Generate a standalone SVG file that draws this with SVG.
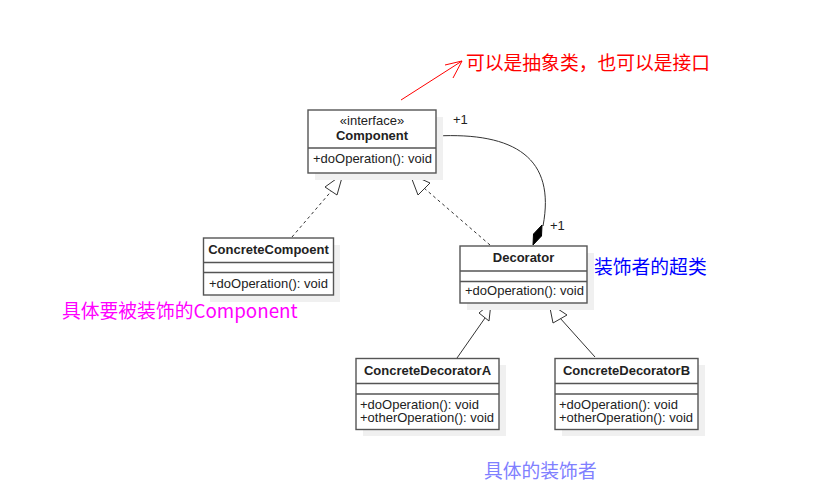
<svg xmlns="http://www.w3.org/2000/svg" width="837" height="501" viewBox="0 0 837 501">
<style>
.box{fill:#fff;stroke:#555;stroke-width:1.4}
.sh{fill:#f0f0f0}
.div{stroke:#555;stroke-width:1.4}
.t{font-family:"Liberation Sans",Arial,sans-serif;font-size:13px;fill:#222}
.b{font-weight:bold;text-anchor:middle}
.c{text-anchor:middle}
.ln{stroke:#333;stroke-width:1;fill:none}
.dash{stroke-dasharray:3,3}
.tri{fill:#fff;stroke:#333;stroke-width:1}
.cjk{font-family:"Microsoft YaHei","Noto Sans CJK SC",sans-serif;font-size:18.8px}
</style>
<rect width="837" height="501" fill="#fff"/>
<g id="connectors">
  <path class="ln dash" d="M292,237 L334,188"/>
  <polygon class="tri" points="343,174 325,187 337,195"/>
  <path class="ln dash" d="M490,245 L424,188"/>
  <polygon class="tri" points="410,174 418,195 430,183"/>
  <path class="ln" d="M436,136 C515,132 556,158 543,226"/>
  <polygon points="533,245 533.5,234 542,225 541.5,236" fill="#000" stroke="#000" stroke-width="1"/>
  <text class="t" x="453" y="124" font-size="12">+1</text>
  <text class="t" x="550" y="230" font-size="12">+1</text>
  <path class="ln" d="M457,358 L485,318"/>
  <polygon class="tri" points="491,303 479,313 489,321"/>
  <path class="ln" d="M595,357 L560,318"/>
  <polygon class="tri" points="549,303 553,323 567,315"/>
  <path d="M401,100 L462,61 M445,65 L462,61 L453,78" stroke="#f00" stroke-width="1" fill="none"/>
</g>
<g id="Component">
  <rect class="sh" x="315" y="117" width="128" height="63"/>
  <rect class="box" x="308" y="110" width="128" height="63"/>
  <line class="div" x1="308" y1="148" x2="436" y2="148"/>
  <text class="t c" x="372" y="125">«interface»</text>
  <text class="t b" x="372" y="139.5">Component</text>
  <text class="t" x="313" y="163">+doOperation(): void</text>
</g>
<g id="ConcreteCompoent">
  <rect class="sh" x="210" y="245" width="130" height="57"/>
  <rect class="box" x="203.5" y="238" width="130" height="57"/>
  <line class="div" x1="203.5" y1="262.5" x2="333.5" y2="262.5"/>
  <line class="div" x1="203.5" y1="272.5" x2="333.5" y2="272.5"/>
  <text class="t b" x="268.5" y="253.5">ConcreteCompoent</text>
  <text class="t" x="209" y="288">+doOperation(): void</text>
</g>
<g id="Decorator">
  <rect class="sh" x="467" y="253" width="127" height="57"/>
  <rect class="box" x="460" y="246" width="127" height="57"/>
  <line class="div" x1="460" y1="271" x2="587" y2="271"/>
  <line class="div" x1="460" y1="281.5" x2="587" y2="281.5"/>
  <text class="t b" x="523.5" y="262">Decorator</text>
  <text class="t" x="465" y="295">+doOperation(): void</text>
</g>
<g id="ConcreteDecoratorA">
  <rect class="sh" x="363" y="365" width="143" height="71"/>
  <rect class="box" x="356" y="358.5" width="143" height="71"/>
  <line class="div" x1="356" y1="383.5" x2="499" y2="383.5"/>
  <line class="div" x1="356" y1="394" x2="499" y2="394"/>
  <text class="t b" x="427.5" y="374.5">ConcreteDecoratorA</text>
  <text class="t" x="360" y="408.5">+doOperation(): void</text>
  <text class="t" x="360" y="422">+otherOperation(): void</text>
</g>
<g id="ConcreteDecoratorB">
  <rect class="sh" x="562" y="365" width="143" height="71"/>
  <rect class="box" x="555" y="358.5" width="143" height="71"/>
  <line class="div" x1="555" y1="383.5" x2="698" y2="383.5"/>
  <line class="div" x1="555" y1="394" x2="698" y2="394"/>
  <text class="t b" x="626.5" y="374.5">ConcreteDecoratorB</text>
  <text class="t" x="559" y="408.5">+doOperation(): void</text>
  <text class="t" x="559" y="422">+otherOperation(): void</text>
</g>
<g id="notes">
  <text class="cjk" x="466" y="70" fill="#f00" font-size="19.2px">可以是抽象类，也可以是接口</text>
  <text class="cjk" x="594" y="274" fill="#00f" font-size="19.4px">装饰者的超类</text>
  <text class="cjk" x="62" y="318" fill="#f0f" font-size="19px">具体要被装饰的Component</text>
  <text class="cjk" x="484" y="478" fill="#8080ff" font-size="19.4px">具体的装饰者</text>
</g>
</svg>
